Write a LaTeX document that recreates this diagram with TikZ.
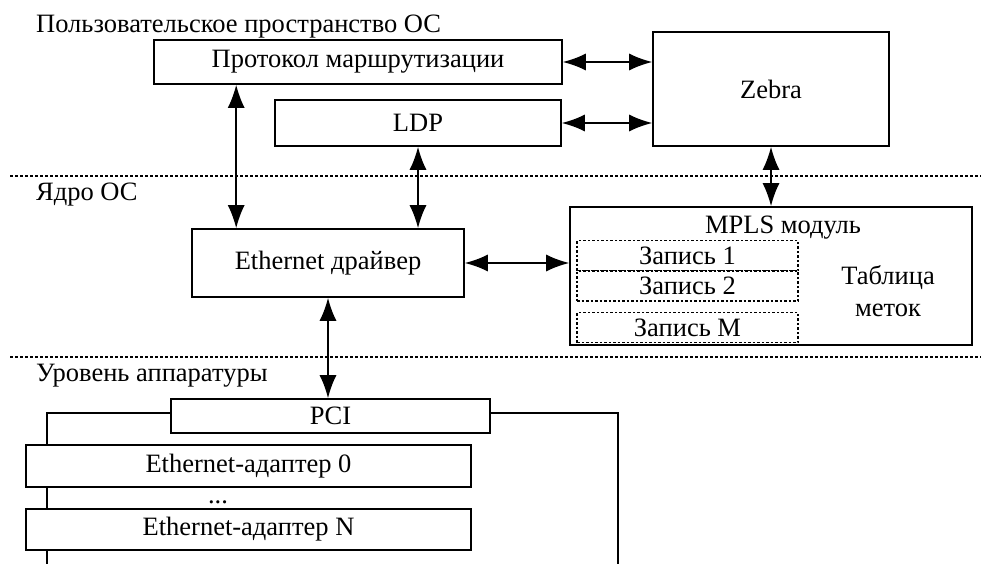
\documentclass[tikz,border=0pt]{standalone}
\usepackage{fontspec}
\setmainfont{Liberation Serif}
\usetikzlibrary{arrows.meta,calc}

\begin{document}
\begin{tikzpicture}[x=1pt,y=-1pt,
  every node/.style={font=\fontsize{26.5}{32}\selectfont},
  blk/.style={draw,line width=1.6pt,fill=white,inner sep=0pt},
  zap/.style={draw,line width=1.2pt,dash pattern=on 2.5pt off 2pt,minimum width=221pt,minimum height=30pt,inner sep=0pt},
  biarr/.style={line width=1.6pt,{Latex[length=23pt,width=17pt]}-{Latex[length=23pt,width=17pt]}},
  sep/.style={line width=1.3pt,dash pattern=on 3pt off 2pt},
  lvl/.style={anchor=base west,inner sep=0pt}]
\useasboundingbox (0,0) rectangle (981,564);
% levels
\node[lvl] (user) at (36,33) {Пользовательское пространство ОС};
\node[lvl] (kern) at (36,200) {Ядро ОС};
\node[lvl] (hw) at (36,381) {Уровень аппаратуры};
\coordinate (s1a) at (10,176); \coordinate (s1b) at (981,176);
\coordinate (s2a) at (10,357); \coordinate (s2b) at (981,357);
\draw[sep] (s1a)--(s1b); \draw[sep] (s2a)--(s2b);
% user space
\node[blk,minimum width=408pt,minimum height=44pt] (proto) at (358,62) {Протокол маршрутизации};
\node[blk,minimum width=286pt,minimum height=46pt] (ldp) at (418,123) {LDP};
\node[blk,minimum width=236pt,minimum height=114pt] (zebra) at (771,89) {Zebra};
% kernel
\node[blk,minimum width=272pt,minimum height=68pt] (drv) at (328,263) {Ethernet драйвер};
\node[blk,minimum width=402pt,minimum height=138pt] (mpls) at (771,276) {};
\node[anchor=base,inner sep=0pt] (mplst) at (783,233) {MPLS модуль};
\node[zap] (z1) at (687.5,255.5) {Запись 1};
\node[zap] (z2) at (687.5,286) {Запись 2};
\node[zap] (zm) at (687.5,327.5) {Запись M};
\node[align=center,inner sep=0pt] (tab) at (888,291) {Таблица\\меток};
% hardware
\node[blk,minimum width=319pt,minimum height=34pt] (pci) at (330.5,416) {PCI};
\coordinate (busl) at (47,564); \coordinate (busr) at (618,564);
\draw[line width=1.6pt] ([yshift=3pt]pci.west) -| (busl);
\draw[line width=1.6pt] ([yshift=3pt]pci.east) -| (busr);
\node[blk,minimum width=445pt,minimum height=42pt] (eth0) at (248.5,466) {Ethernet-адаптер 0};
\node[anchor=base,inner sep=0pt] (dots) at (218,503) {...};
\node[blk,minimum width=445pt,minimum height=41pt] (ethn) at (248.5,529.5) {Ethernet-адаптер N};
% links
\draw[biarr] (proto.east) -- (proto.east -| zebra.west);
\draw[biarr] (ldp.east) -- (ldp.east -| zebra.west);
\draw[biarr] ([xshift=45pt]drv.north west |- proto.south) -- ([xshift=45pt]drv.north west);
\draw[biarr] (ldp.south) -- (ldp.south |- drv.north);
\draw[biarr] (zebra.south) -- (zebra.south |- mpls.north);
\draw[biarr] (drv.east) -- (drv.east -| mpls.west);
\draw[biarr] (drv.south) -- (drv.south |- pci.north);
\end{tikzpicture}
\end{document}
